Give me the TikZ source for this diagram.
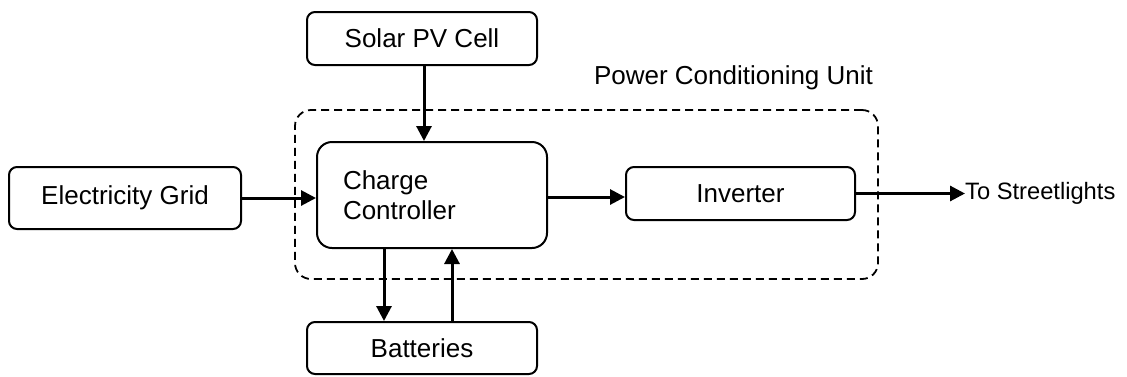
\documentclass[tikz,border=0pt]{standalone}
\usepackage{fontspec}
\setmainfont{Liberation Sans}
\usetikzlibrary{arrows.meta}
\begin{document}
\begin{tikzpicture}[x=1pt,y=-1pt,
  box/.style={draw, line width=2pt, rounded corners=8pt, inner sep=0pt,
    font=\fontsize{26}{30}\selectfont},
  arr/.style={line width=3pt, -{Triangle[length=15pt,width=15pt]}},
  pcubox/.style={draw, line width=1.8pt, dash pattern=on 8pt off 5pt, rounded corners=16pt}]
\useasboundingbox (0,0) rectangle (1127,376);
\node[pcubox, minimum width=583pt, minimum height=169pt] (pcu) at (586.5,194.5) {};
\node[font=\fontsize{26}{30}\selectfont, inner sep=0pt] (pcutext) at (733.5,78) {Power Conditioning Unit};
\node[box, minimum width=230pt, minimum height=53pt] (solar) at (422,38.5) {Solar PV Cell};
\node[box, minimum width=232pt, minimum height=62pt] (grid) at (125,198) {Electricity Grid};
\node[box, rounded corners=15pt, minimum width=230pt, minimum height=106pt,
  text width=178pt, align=left, inner xsep=26pt] (cc) at (432,195) {Charge\\Controller};
\node[box, minimum width=229pt, minimum height=53pt] (inv) at (740.5,193.5) {Inverter};
\node[box, minimum width=230pt, minimum height=52pt] (bat) at (422,348) {Batteries};
\node[anchor=west, inner sep=0pt, font=\fontsize{23.7}{28}\selectfont] (st) at (965,193.5) {To Streetlights};
\draw[arr] ([xshift=2pt]solar.south) coordinate (s1) -- (s1 |- cc.north);
\draw[arr] (grid.east) -- (grid.east -| cc.west);
\draw[arr] ([yshift=-2pt]cc.east) coordinate (c1) -- (c1 -| inv.west);
\draw[arr] (inv.east) -- (st.west);
\draw[arr] ([xshift=-48pt]cc.south) coordinate (d1) -- (d1 |- bat.north);
\draw[arr] ([xshift=30pt]bat.north) coordinate (u1) -- (u1 |- cc.south);
\end{tikzpicture}
\end{document}
